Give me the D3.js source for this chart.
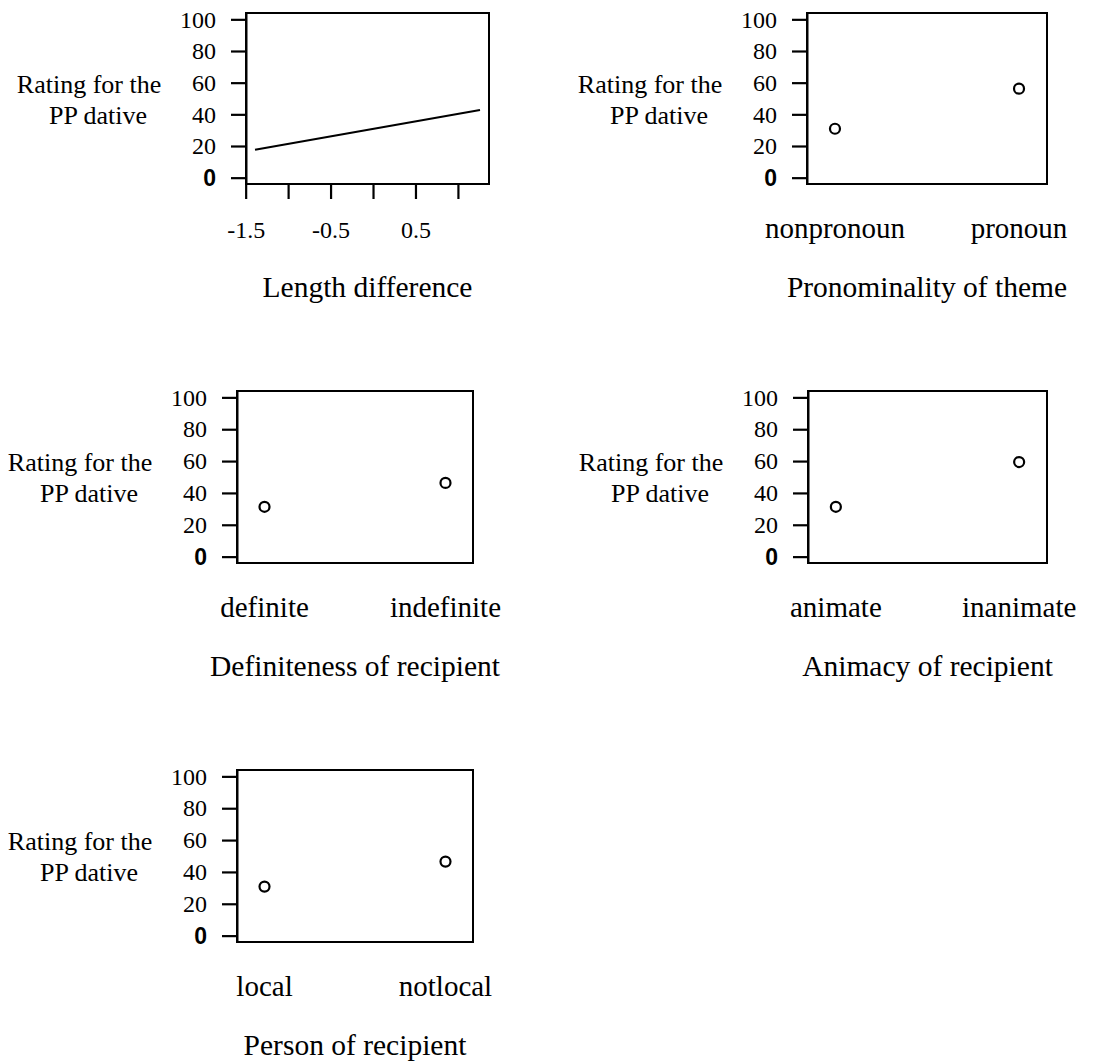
<!DOCTYPE html>
<html>
<head>
<meta charset="utf-8">
<script src="https://cdn.jsdelivr.net/npm/d3@7"></script>
<style>
  body { margin: 0; background: #fff; }
  text { font-family: "Liberation Serif", "Times New Roman", serif; fill: #000; }
</style>
</head>
<body>
<div id="chart"></div>
<script>
// effect plots: rating for the PP dative against each predictor

// y axis, shared by all panels
const yTicks = [0, 20, 40, 60, 80, 100];
const yTitle = ["Rating for the", "PP dative"];

// panel 1: length difference (numeric predictor, fitted line)
const lenDiffX = [-1.39, 1.26];
const lenDiffY = [17.6, 42.7];
const lenDiffTicks = [-1.5, -1, -0.5, 0, 0.5, 1];
const lenDiffLabels = [-1.5, -0.5, 0.5];

// factor panels
const pronomLevels = ["nonpronoun", "pronoun"];
const pronomValues = [30.9, 56.2];
const defLevels = ["definite", "indefinite"];
const defValues = [31.3, 46.3];
const animLevels = ["animate", "inanimate"];
const animValues = [31.3, 59.4];
const personLevels = ["local", "notlocal"];
const personValues = [30.8, 46.5];

const titles = ["Length difference", "Pronominality of theme",
  "Definiteness of recipient", "Animacy of recipient", "Person of recipient"];

// plot boxes on the page
const boxes = [
  {left: 246, right: 489, top: 13, bottom: 184},
  {left: 807, right: 1047, top: 13, bottom: 184},
  {left: 237, right: 473, top: 391, bottom: 563},
  {left: 808, right: 1047, top: 391, bottom: 563},
  {left: 237, right: 473, top: 770, bottom: 942}
];

const svg = d3.select("#chart")
  .append("svg")
    .attr("width", 1094)
    .attr("height", 1063)
    .style("background", "#fff");

// R style 4% padding of the data range
function padded(lo, hi) {
  const d = (hi - lo) * 0.04;
  return [lo - d, hi + d];
}

function drawFrame(i) {
  const b = boxes[i];
  const g = svg.append("g").attr("transform", `translate(${b.left},${b.top})`);
  const w = b.right - b.left, h = b.bottom - b.top;

  const y = d3.scaleLinear().domain(padded(0, 100)).range([h, 0]);

  const yAxis = g.append("g")
    .call(d3.axisLeft(y).tickValues(yTicks).tickSize(15).tickSizeOuter(0)
      .tickPadding(15).tickFormat(d => String(d)));
  yAxis.select(".domain").attr("stroke-width", 2);
  yAxis.selectAll(".tick line").attr("stroke-width", 2.2);
  yAxis.selectAll(".tick text")
    .style("font-size", "24px")
    .attr("fill", "#000");
  // the zero label is set in a bold sans face in the original
  yAxis.selectAll(".tick text")
    .filter(d => d === 0)
    .style("font-family", "'Liberation Sans', Arial, sans-serif")
    .style("font-weight", "bold")
    .style("font-size", "23px");

  g.append("rect")
    .attr("width", w).attr("height", h)
    .attr("fill", "none").attr("stroke", "#000").attr("stroke-width", 2);

  // two line y title, left of the tick labels
  g.selectAll(".ytitle")
    .data(yTitle)
    .join("text")
      .attr("class", "ytitle")
      .attr("x", (d, k) => k === 0 ? -157 : -148)
      .attr("y", (d, k) => k === 0 ? 80 : 110.5)
      .attr("text-anchor", "middle")
      .style("font-size", "26px")
      .text(d => d);

  g.append("text")
    .attr("x", w / 2)
    .attr("y", h + 112.5)
    .attr("text-anchor", "middle")
    .style("font-size", "29.5px")
    .text(titles[i]);

  return {g, w, h, y};
}

// panel 1
{
  const {g, w, h, y} = drawFrame(0);
  const x = d3.scaleLinear().domain(padded(lenDiffX[0], lenDiffX[1])).range([0, w]);

  const xAxis = g.append("g")
    .attr("transform", `translate(0,${h})`)
    .call(d3.axisBottom(x).tickValues(lenDiffTicks).tickSize(15).tickSizeOuter(0)
      .tickFormat(d => lenDiffLabels.includes(d) ? String(d) : ""));
  xAxis.select(".domain").remove();
  xAxis.selectAll(".tick line").attr("stroke-width", 2.2);
  xAxis.selectAll(".tick text")
    .attr("y", 54).attr("dy", 0)
    .style("font-size", "24px")
    .attr("fill", "#000");

  const pts = lenDiffX.map((v, k) => [v, lenDiffY[k]]);
  g.append("path")
    .datum(pts)
    .attr("d", d3.line().x(d => x(d[0])).y(d => y(d[1])))
    .attr("fill", "none")
    .attr("stroke", "#000")
    .attr("stroke-width", 2);
}

// factor panels
const factors = [
  [pronomLevels, pronomValues],
  [defLevels, defValues],
  [animLevels, animValues],
  [personLevels, personValues]
];

factors.forEach(([levels, values], k) => {
  const {g, w, h, y} = drawFrame(k + 1);
  const x = d3.scaleLinear().domain([0.848, 2.152]).range([0, w]);

  g.selectAll(".cat")
    .data(levels)
    .join("text")
      .attr("class", "cat")
      .attr("x", (d, j) => x(j + 1))
      .attr("y", h + 54)
      .attr("text-anchor", "middle")
      .style("font-size", "29px")
      .text(d => d);

  g.selectAll("circle")
    .data(values)
    .join("circle")
      .attr("cx", (d, j) => x(j + 1))
      .attr("cy", d => y(d))
      .attr("r", 5)
      .attr("fill", "none")
      .attr("stroke", "#000")
      .attr("stroke-width", 2.2);
});
</script>
</body>
</html>
